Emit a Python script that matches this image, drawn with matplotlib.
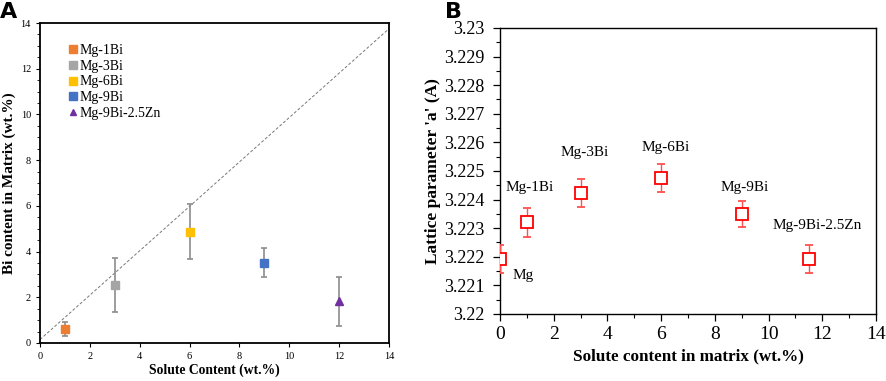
import numpy as np
import matplotlib
matplotlib.use("Agg")
import matplotlib.pyplot as plt
from matplotlib.ticker import MultipleLocator

# ---- panel A data ----
alloys_a = ["Mg-1Bi", "Mg-3Bi", "Mg-6Bi", "Mg-9Bi", "Mg-9Bi-2.5Zn"]
solute_a = [1, 3, 6, 9, 12]
bi_matrix = [0.6, 2.55, 4.87, 3.52, 1.82]
bi_err = [0.3, 1.18, 1.2, 0.65, 1.06]
colors_a = ["#ED7D31", "#A5A5A5", "#FFC000", "#4472C4", "#7030A0"]
markers_a = ["s", "s", "s", "s", "^"]
trend_x = [0, 14]
trend_y = [0.15, 13.75]

# ---- panel B data ----
alloys_b = ["Mg", "Mg-1Bi", "Mg-3Bi", "Mg-6Bi", "Mg-9Bi", "Mg-9Bi-2.5Zn"]
solute_b = [0, 1, 3, 6, 9, 11.5]
lattice_a = [3.22192, 3.2232, 3.22423, 3.22476, 3.2235, 3.22192]
lattice_err = [0.0005, 0.0005, 0.0005, 0.0005, 0.00045, 0.0005]
label_xy = [(0.87, 3.22134), (1.12, 3.22441), (3.14, 3.22565),
            (6.17, 3.22583), (9.12, 3.22441), (11.82, 3.22309)]
yticks_b = ["3.22", "3.221", "3.222", "3.223", "3.224", "3.225",
            "3.226", "3.227", "3.228", "3.229", "3.23"]

serif = ["Liberation Serif", "DejaVu Serif"]
plt.rcParams['font.family'] = serif

fig = plt.figure(figsize=(8.86, 3.81), dpi=100)

# ===== panel A =====
axA = fig.add_axes([40/886, 38/381, 349/886, 320/381])
axA.plot(trend_x, trend_y, color="#777777", linestyle=(0, (3, 2)), linewidth=0.7)
for x, y, e, c, m, lab in zip(solute_a, bi_matrix, bi_err, colors_a, markers_a, alloys_a):
    axA.errorbar(x, y, yerr=e, fmt="none", ecolor="#8c8c8c", elinewidth=1.2,
                 capsize=2.5, capthick=1.2, zorder=2)
    axA.plot(x, y, marker=m, linestyle="none", color=c, markersize=6 if m == "s" else 5.5,
             label=lab, zorder=3)
axA.set_xlim(0, 14)
axA.set_ylim(0, 14)
axA.xaxis.set_major_locator(MultipleLocator(2))
axA.yaxis.set_major_locator(MultipleLocator(2))
axA.yaxis.set_minor_locator(MultipleLocator(0.5))
axA.tick_params(axis="both", labelsize=7.5, length=3, width=0.8)
axA.tick_params(axis="y", which="minor", length=2, width=0.6)
for s in axA.spines.values():
    s.set_linewidth(1.3)
axA.set_xlabel("Solute Content (wt.%)", fontsize=9.8, fontweight="bold", labelpad=2)
axA.set_ylabel("Bi content in Matrix (wt.%)", fontsize=11, fontweight="bold", labelpad=3)
axA.legend(loc="upper left", bbox_to_anchor=(0.055, 0.965), frameon=False, fontsize=10,
           handlelength=0.6, handletextpad=0.15, labelspacing=0.2, borderpad=0.2,
           markerscale=0.9)
fig.text(0.0, 0.995, "A", fontsize=16, fontweight="bold", family="DejaVu Sans",
         ha="left", va="top")

# ===== panel B =====
axB = fig.add_axes([500/886, 67/381, 376/886, 286/381])
axB.errorbar(solute_b, lattice_a, yerr=lattice_err, fmt="s", mfc="white", mec="red",
             ms=8.5, mew=1.3, ecolor="#ff5050", elinewidth=1.0, capsize=3, capthick=1.0,
             zorder=3)
for (tx, ty), lab in zip(label_xy, alloys_b):
    axB.text(tx, ty, lab, fontsize=11, ha="center", va="center")
axB.set_xlim(0, 14)
axB.set_ylim(3.22, 3.23)
axB.xaxis.set_major_locator(MultipleLocator(2))
axB.xaxis.set_minor_locator(MultipleLocator(1))
axB.yaxis.set_minor_locator(MultipleLocator(0.0005))
axB.set_yticks(np.linspace(3.22, 3.23, len(yticks_b)))
axB.set_yticklabels(yticks_b)
axB.tick_params(axis="both", labelsize=14, length=5, width=0.9)
axB.tick_params(axis="y", labelsize=13, pad=6)
axB.tick_params(which="minor", length=3, width=0.8)
for s in axB.spines.values():
    s.set_linewidth(1.0)
axB.set_xlabel("Solute content in matrix (wt.%)", fontsize=12.3, fontweight="bold", labelpad=4)
axB.set_ylabel("Lattice parameter 'a' (A)", fontsize=12.5, fontweight="bold", labelpad=2)
fig.text(0.502, 0.995, "B", fontsize=16, fontweight="bold", family="DejaVu Sans",
         ha="left", va="top")

fig.savefig("out.png", dpi=100)
